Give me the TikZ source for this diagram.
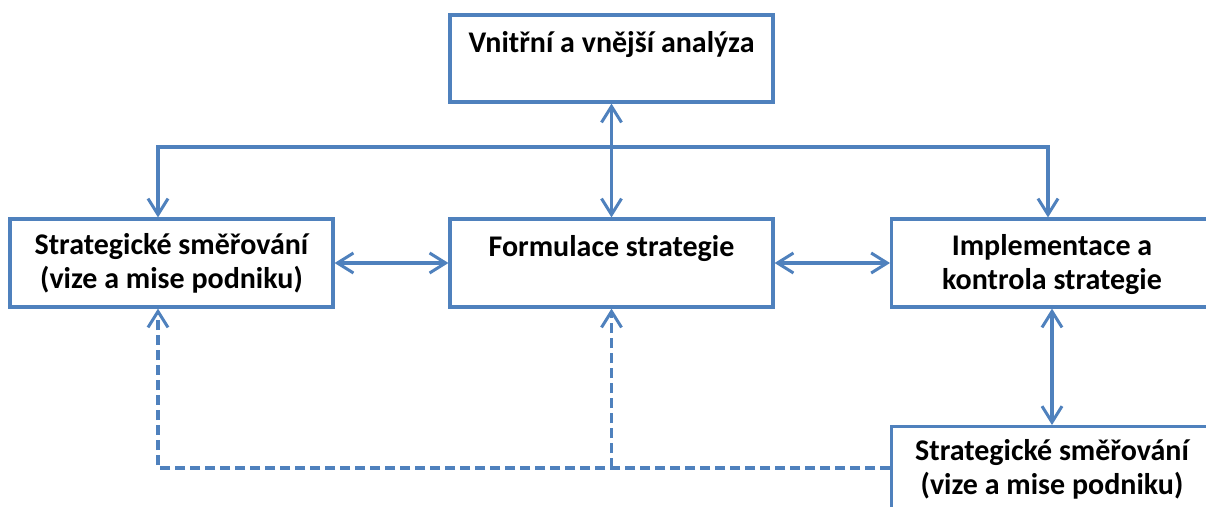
\documentclass[tikz,border=0pt]{standalone}
\usepackage{fontspec}
\setmainfont{Carlito}
\usetikzlibrary{arrows.meta}
\definecolor{obl}{HTML}{4F81BD}
\begin{document}
\begin{tikzpicture}[x=1pt,y=-1pt,
  box/.style={draw=obl,line width=3.2pt,fill=white,align=center,inner sep=0pt,
    font=\bfseries\fontsize{30}{34}\selectfont},
  txt/.style={align=center,inner sep=0pt,font=\bfseries\fontsize{30}{34}\selectfont},
  conn/.style={draw=obl,line width=3.2pt,{Straight Barb[length=16pt,width=20pt,line width=3pt]}-{Straight Barb[length=16pt,width=20pt,line width=3pt]}},
  conne/.style={draw=obl,line width=3.2pt,-{Straight Barb[length=16pt,width=20pt,line width=3pt]}},
  dashconn/.style={conne,dash pattern=on 10pt off 5pt}]
\fill[white] (0,0) rectangle (1206,506);
\node[box,minimum width=323pt,minimum height=87pt] (top) at (611.5,58.5) {Vnitřní a vnější analýza\\\mbox{}};
\node[box,minimum width=323pt,minimum height=88pt] (left) at (171.5,263) {Strategické směřování\\(vize a mise podniku)};
\node[box,minimum width=323pt,minimum height=88pt] (mid) at (611.5,263) {Formulace strategie\\\mbox{}};
\node[box,minimum width=400pt,minimum height=88pt,anchor=west] (right) at (890,263) {};
\node[txt] (righttext) at (1052,265) {Implementace a\\kontrola strategie};
\node[box,minimum width=400pt,minimum height=120pt,anchor=north west] (bot) at (890,425) {};
\node[txt] (bottext) at (1052,469) {Strategické směřování\\(vize a mise podniku)};
\coordinate (busL) at (158,147);
\coordinate (busR) at (1048,147);
\coordinate (dL) at (158,468);
\draw[conn] (top.south) -- (mid.north);
\draw[conn] (busL |- left.north) -- (busL) -- (busR) -- (busR |- right.north);
\draw[conn] (left.east) -- (mid.west);
\draw[conn] (mid.east) -- (right.west);
\draw[conn] (righttext |- right.south) -- (righttext |- bot.north);
\draw[dashconn] (bot.north west |- dL) -- (dL) -- (dL |- left.south);
\draw[dashconn] (mid.south |- dL) -- (mid.south);
\pgfresetboundingbox
\useasboundingbox (0,0) rectangle (1206,506);
\end{tikzpicture}
\end{document}
